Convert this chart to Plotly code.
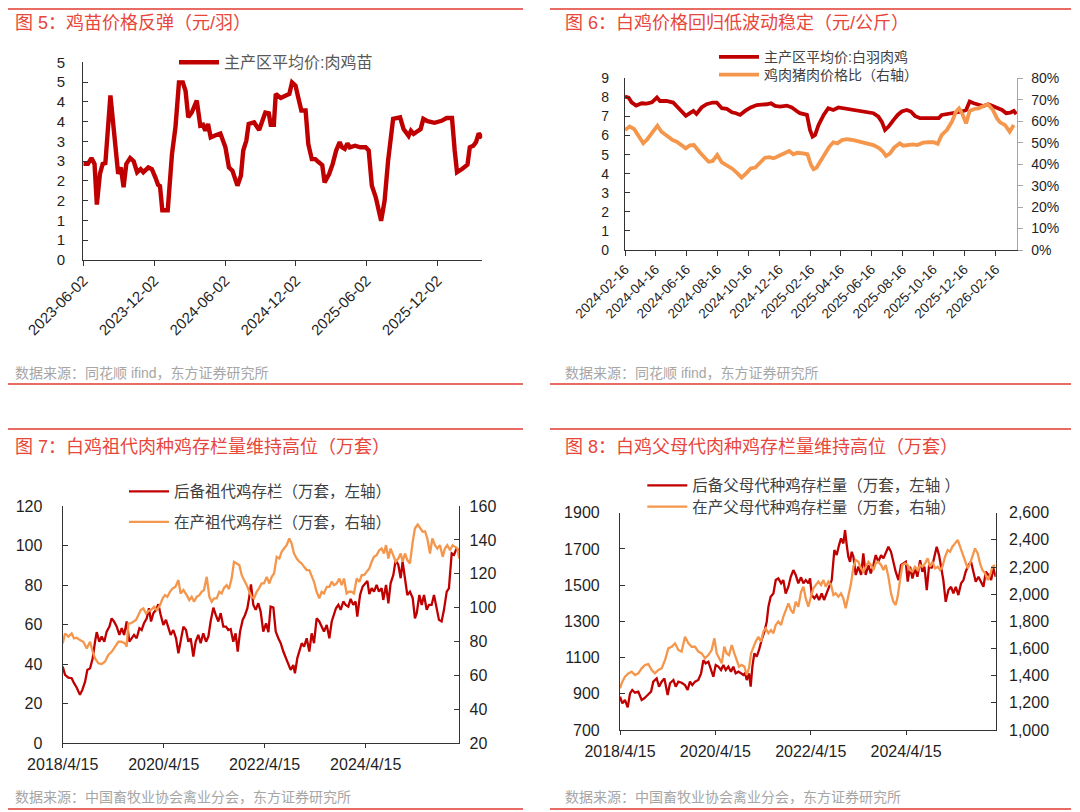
import pandas as pd
import plotly.graph_objects as go

W, H = 1080, 812
PAGE_PAD = 8  # the browser's default body margin around the plot div

# ---------------- 图5 鸡苗价格 (元/羽) ----------------
chick_start = "2023-06-02"
chick_days = [0, 12, 21, 29, 35, 43, 50, 57, 70, 79,
              90, 97, 104, 111, 121, 130, 139, 148, 155, 168,
              177, 186, 193, 198, 204, 218, 229, 238, 247, 257,
              264, 271, 280, 293, 302, 309, 315, 322, 329, 340,
              354, 367, 376, 385, 398, 407, 413, 421, 427, 441,
              454, 470, 479, 484, 492, 497, 510, 523, 532, 539,
              548, 555, 563, 574, 581, 590, 599, 608, 617, 623,
              635, 644, 653, 662, 668, 675, 682, 688, 702, 715,
              729, 737, 745, 755, 769, 778, 787, 800, 809, 818,
              827, 840, 846, 853, 862, 871, 878, 889, 907, 925,
              938, 952, 959, 965, 978, 992, 998, 1007, 1014, 1021,
              1030]
chick_price = [2.43, 2.43, 2.58, 2.43, 1.40, 2.18, 2.43, 2.45, 4.16, 3.19,
               2.18, 2.34, 1.84, 2.43, 2.58, 2.50, 2.22, 2.30, 2.22, 2.34,
               2.30, 2.09, 1.90, 1.87, 1.26, 1.26, 2.68, 3.36, 4.49, 4.49,
               4.28, 3.61, 3.73, 4.03, 3.40, 3.42, 3.27, 3.44, 3.10, 3.15,
               3.20, 2.85, 2.34, 2.26, 1.88, 2.13, 2.77, 3.02, 3.44, 3.48,
               3.29, 3.73, 3.71, 3.42, 3.42, 4.20, 4.10, 4.16, 4.20, 4.49,
               4.41, 4.11, 3.78, 3.78, 2.93, 2.55, 2.55, 2.47, 2.40, 1.96,
               2.18, 2.43, 2.77, 2.98, 2.85, 2.81, 2.95, 2.85, 2.89, 2.85,
               2.85, 2.77, 1.88, 1.59, 0.99, 1.50, 2.51, 3.57, 3.59, 3.61,
               3.31, 3.14, 3.27, 3.19, 3.25, 3.31, 3.57, 3.51, 3.47, 3.52,
               3.59, 3.59, 2.77, 2.22, 2.30, 2.41, 2.85, 2.89, 2.98, 3.20,
               3.09]
chick_xticks = ["2023-06-02", "2023-12-02", "2024-06-02", "2024-12-02", "2025-06-02", "2025-12-02"]
chick_yticks = [0, 0.5, 1, 1.5, 2, 2.5, 3, 3.5, 4, 4.5, 5]
chick_yticklabels = ["0", "1", "1", "2", "2", "3", "3", "4", "4", "5", "5"]

# ---------------- 图6 白鸡价格 (元/公斤) 与 鸡猪价格比 ----------------
broiler_start = "2024-02-16"
broiler_days = [0, 7, 13, 22, 33, 43, 53, 63, 69, 82,
                95, 102, 112, 120, 128, 135, 141, 151, 161, 173,
                181, 191, 201, 211, 219, 227, 237, 248, 260, 270,
                280, 288, 296, 306, 319, 329, 336, 345, 359, 365,
                370, 375, 382, 392, 401, 411, 421, 431, 441, 451,
                461, 470, 480, 490, 500, 507, 513, 520, 530, 538,
                546, 556, 564, 572, 582, 595, 609, 619, 625, 638,
                651, 665, 673, 680, 688, 697, 707, 717, 727, 737,
                744, 752, 760, 767, 772]
broiler_price = [8.04, 7.99, 7.74, 7.57, 7.69, 7.67, 7.74, 7.99, 7.81, 7.81,
                 7.73, 7.52, 7.26, 7.03, 7.17, 7.29, 7.13, 7.47, 7.64, 7.73,
                 7.73, 7.43, 7.40, 7.22, 7.17, 7.08, 7.29, 7.47, 7.60, 7.60,
                 7.64, 7.69, 7.55, 7.52, 7.57, 7.47, 7.33, 7.17, 7.08, 6.29,
                 5.94, 6.03, 6.56, 7.08, 7.43, 7.34, 7.47, 7.43, 7.40, 7.34,
                 7.31, 7.29, 7.26, 7.17, 6.99, 6.70, 6.29, 6.47, 6.82, 7.08,
                 7.26, 7.34, 7.26, 7.03, 6.91, 6.91, 6.87, 6.91, 7.08, 7.13,
                 7.20, 7.26, 7.34, 7.78, 7.69, 7.60, 7.55, 7.64, 7.52, 7.43,
                 7.34, 7.17, 7.20, 7.29, 7.12]
ratio_days = [0, 9, 18, 28, 36, 44, 55, 64, 72, 82,
              94, 102, 110, 120, 128, 136, 147, 156, 165, 173,
              182, 191, 201, 211, 222, 230, 239, 248, 257, 266,
              276, 285, 293, 303, 314, 324, 332, 340, 351, 360,
              367, 372, 378, 385, 395, 403, 411, 419, 428, 438,
              451, 464, 477, 490, 502, 509, 515, 523, 531, 542,
              549, 559, 568, 577, 588, 599, 609, 617, 625, 635,
              645, 653, 659, 665, 673, 680, 689, 697, 707, 716,
              726, 734, 740, 750, 759, 767]
ratio_pct = [55.9, 57.5, 56.4, 52.8, 49.7, 51.6, 54.8, 57.9, 55.1, 53.3,
             51.2, 50.5, 48.9, 47.4, 48.8, 48.9, 45.7, 43.5, 41.1, 41.5,
             44.3, 40.8, 39.3, 38.0, 35.7, 33.7, 35.7, 38.0, 38.4, 40.8,
             43.0, 43.2, 42.7, 43.8, 45.0, 46.1, 44.6, 45.3, 45.0, 44.6,
             39.6, 37.6, 38.4, 41.1, 45.5, 48.1, 50.2, 49.7, 51.2, 51.6,
             51.2, 50.5, 50.0, 48.9, 47.4, 45.8, 43.8, 45.0, 47.7, 49.7,
             48.6, 48.9, 49.2, 48.9, 50.0, 50.2, 50.2, 49.5, 53.6, 55.9,
             59.8, 64.4, 66.0, 63.7, 59.0, 64.8, 65.7, 66.0, 66.8, 67.9,
             65.2, 61.3, 59.5, 58.2, 55.1, 58.2]
broiler_xticks = ["2024-02-16", "2024-04-16", "2024-06-16", "2024-08-16", "2024-10-16",
                  "2024-12-16", "2025-02-16", "2025-04-16", "2025-06-16", "2025-08-16",
                  "2025-10-16", "2025-12-16", "2026-02-16"]

# ---------------- 图7 祖代肉种鸡存栏 (万套) ----------------
stock_start = "2018-04-15"
gp_reserve_days = [0, 17, 41, 65, 82, 101, 125, 142, 162, 178,
                   198, 217, 234, 246, 265, 282, 301, 318, 338, 354,
                   371, 391, 410, 427, 444, 463, 482, 499, 516, 535,
                   555, 571, 588, 608, 624, 639, 656, 675, 692, 709,
                   728, 747, 764, 781, 800, 820, 837, 853, 873, 892,
                   909, 926, 945, 962, 981, 998, 1017, 1037, 1054, 1070,
                   1090, 1107, 1126, 1143, 1162, 1181, 1198, 1215, 1234, 1251,
                   1266, 1283, 1302, 1319, 1336, 1350, 1362, 1379, 1396, 1415,
                   1432, 1451, 1471, 1488, 1504, 1524, 1541, 1560, 1577, 1596,
                   1615, 1632, 1649, 1668, 1680, 1697, 1712, 1729, 1746, 1765,
                   1784, 1801, 1818, 1837, 1856, 1873, 1890, 1910, 1929, 1946,
                   1963, 1977, 1994, 2011, 2030, 2047, 2066, 2083, 2102, 2119,
                   2131, 2151, 2170, 2187, 2204, 2218, 2235, 2252, 2271, 2288,
                   2307, 2319, 2339, 2356, 2372, 2392, 2409, 2428, 2445, 2459,
                   2476, 2493, 2512, 2532, 2548, 2561, 2580, 2597, 2614, 2633,
                   2650, 2669, 2686, 2705, 2722, 2741, 2758, 2778, 2794, 2814,
                   2831, 2850, 2869]
gp_reserve = [38.8, 34.6, 33.2, 32.9, 30.4, 28.2, 24.5, 27.0, 31.2, 37.1,
              37.9, 43.0, 51.4, 56.2, 51.4, 54.0, 51.4, 56.5, 59.0, 63.2,
              61.6, 59.0, 54.8, 58.2, 54.8, 61.6, 51.4, 53.1, 54.8, 53.1,
              58.2, 57.3, 60.7, 63.2, 68.3, 61.6, 65.8, 67.5, 70.3, 64.9,
              59.9, 62.4, 58.2, 54.8, 57.3, 53.1, 45.5, 52.3, 59.0, 57.3,
              51.4, 53.1, 43.8, 51.4, 54.8, 50.6, 55.6, 51.4, 54.0, 61.6,
              68.6, 64.9, 61.6, 65.8, 59.0, 59.0, 57.3, 57.8, 51.4, 55.6,
              46.4, 56.5, 62.4, 64.9, 68.3, 74.2, 80.4, 70.0, 67.5, 70.8,
              66.6, 56.5, 60.7, 56.2, 69.1, 68.6, 56.5, 53.1, 50.6, 46.4,
              43.0, 39.6, 37.1, 39.6, 35.4, 43.0, 46.4, 50.6, 48.9, 53.1,
              46.4, 55.6, 50.6, 63.2, 61.6, 59.0, 56.5, 59.9, 53.1, 61.6,
              64.9, 68.3, 70.0, 67.5, 71.7, 70.0, 69.1, 73.0, 70.0, 71.7,
              64.1, 75.0, 79.3, 80.9, 82.1, 75.4, 78.4, 76.7, 80.1, 76.7,
              78.4, 72.5, 80.1, 70.8, 80.9, 85.2, 92.7, 90.2, 83.5, 91.9,
              83.5, 75.0, 76.7, 73.4, 63.2, 65.8, 75.0, 70.0, 75.0, 67.5,
              70.0, 70.0, 75.0, 69.1, 62.4, 61.6, 67.5, 76.7, 78.4, 96.1,
              95.3, 98.7, 97.0]
gp_prod_days = [0, 17, 41, 65, 82, 101, 125, 149, 174, 198,
                217, 234, 258, 282, 306, 330, 354, 379, 403, 427,
                451, 463, 475, 492, 511, 530, 547, 564, 583, 603,
                620, 639, 661, 680, 704, 723, 740, 757, 776, 796,
                815, 837, 853, 873, 897, 916, 933, 950, 969, 989,
                1005, 1022, 1042, 1061, 1078, 1095, 1114, 1133, 1150, 1167,
                1186, 1203, 1222, 1239, 1259, 1278, 1295, 1314, 1331, 1350,
                1367, 1384, 1403, 1422, 1439, 1456, 1476, 1495, 1512, 1529,
                1548, 1567, 1584, 1601, 1620, 1639, 1656, 1673, 1693, 1712,
                1729, 1746, 1765, 1784, 1801, 1818, 1837, 1856, 1873, 1890,
                1910, 1929, 1946, 1963, 1982, 2001, 2018, 2035, 2054, 2071,
                2090, 2107, 2127, 2146, 2163, 2180, 2199, 2218, 2235, 2252,
                2271, 2290, 2307, 2324, 2339, 2356, 2372, 2392, 2409, 2428,
                2445, 2459, 2476, 2493, 2512, 2532, 2548, 2568, 2585, 2604,
                2621, 2638, 2657, 2674, 2693, 2710, 2729, 2749, 2765, 2782,
                2802, 2821, 2838, 2855, 2869]
gp_prod = [78.9, 84.8, 82.9, 84.8, 81.9, 82.3, 80.9, 79.9, 76.0, 79.9,
           74.0, 70.1, 67.2, 66.8, 68.1, 72.1, 74.0, 77.0, 79.9, 79.9,
           78.9, 77.0, 90.7, 90.7, 91.7, 92.7, 95.6, 98.6, 99.6, 96.6,
           98.0, 98.6, 100.6, 98.6, 101.5, 105.5, 107.4, 106.4, 109.4, 111.4,
           112.3, 116.3, 108.4, 110.4, 107.4, 104.5, 106.4, 103.5, 106.4, 107.4,
           109.4, 110.4, 118.2, 106.4, 103.5, 105.5, 105.5, 109.4, 108.4, 111.7,
           113.3, 111.0, 117.2, 127.1, 126.1, 125.1, 119.2, 116.3, 113.3, 109.4,
           106.4, 105.5, 109.4, 111.7, 114.3, 114.3, 118.2, 114.3, 118.2, 120.2,
           130.0, 129.0, 133.0, 134.9, 136.9, 140.8, 137.9, 132.0, 129.0, 127.1,
           126.1, 124.1, 122.2, 122.2, 118.2, 115.3, 109.4, 105.5, 109.4, 108.4,
           112.3, 112.3, 115.3, 113.3, 114.3, 117.2, 113.3, 117.2, 108.4, 109.4,
           109.4, 108.4, 117.2, 115.3, 119.2, 119.2, 121.2, 123.1, 127.1, 130.0,
           131.0, 133.9, 134.9, 132.0, 136.9, 129.0, 134.9, 130.0, 127.1, 129.0,
           132.0, 127.1, 132.0, 128.1, 126.1, 138.9, 146.7, 149.1, 146.7, 144.8,
           145.1, 140.8, 132.0, 140.8, 136.9, 134.9, 136.9, 130.0, 134.9, 136.9,
           133.9, 136.9, 135.9, 134.9, 129.0]

# ---------------- 图8 父母代肉种鸡存栏 (万套) ----------------
pp_reserve_days = [0, 18, 38, 59, 77, 94, 115, 140, 166, 186,
                   212, 238, 255, 281, 299, 319, 340, 365, 383, 409,
                   427, 447, 472, 498, 518, 536, 554, 575, 600, 621,
                   639, 656, 677, 697, 715, 733, 753, 774, 792, 810,
                   830, 850, 868, 886, 907, 927, 945, 958, 971, 988,
                   1001, 1014, 1029, 1047, 1065, 1085, 1106, 1124, 1137, 1154,
                   1175, 1193, 1213, 1234, 1251, 1269, 1290, 1308, 1328, 1346,
                   1366, 1387, 1405, 1423, 1443, 1456, 1469, 1489, 1507, 1525,
                   1545, 1563, 1583, 1601, 1622, 1642, 1660, 1678, 1693, 1711,
                   1724, 1737, 1749, 1762, 1775, 1788, 1806, 1826, 1847, 1864,
                   1882, 1903, 1921, 1941, 1959, 1979, 2000, 2018, 2036, 2056,
                   2076, 2094, 2112, 2133, 2153, 2171, 2189, 2204, 2222, 2240,
                   2260, 2278, 2299, 2316, 2332, 2350, 2368, 2388, 2408, 2426,
                   2444, 2460, 2477, 2495, 2516, 2536, 2554, 2572, 2592, 2613,
                   2631, 2648, 2669, 2689, 2707, 2725, 2746, 2766, 2784, 2802,
                   2822, 2843, 2860, 2878]
pp_reserve = [884, 847, 866, 825, 902, 921, 906, 912, 866, 875,
              893, 912, 967, 985, 939, 967, 985, 893, 958, 976,
              939, 967, 961, 948, 921, 967, 948, 967, 976, 1013,
              1086, 1068, 1077, 1031, 994, 1059, 1050, 1031, 1059, 1031,
              1050, 1022, 1050, 1013, 1022, 1013, 1004, 1013, 976, 1013,
              939, 1050, 1123, 1105, 1142, 1197, 1243, 1298, 1381, 1436,
              1454, 1528, 1537, 1510, 1528, 1454, 1491, 1546, 1583, 1556,
              1510, 1543, 1510, 1528, 1510, 1537, 1445, 1427, 1445, 1418,
              1454, 1418, 1454, 1491, 1528, 1694, 1666, 1721, 1758, 1730,
              1804, 1721, 1657, 1629, 1684, 1657, 1556, 1602, 1556, 1675,
              1556, 1611, 1565, 1611, 1666, 1629, 1666, 1648, 1675, 1712,
              1684, 1629, 1574, 1528, 1611, 1620, 1629, 1519, 1602, 1537,
              1593, 1546, 1638, 1574, 1602, 1473, 1611, 1593, 1648, 1712,
              1666, 1593, 1528, 1408, 1473, 1491, 1454, 1491, 1445, 1510,
              1528, 1574, 1611, 1629, 1574, 1519, 1546, 1519, 1491, 1574,
              1556, 1528, 1593, 1546]
pp_prod_days = [0, 18, 38, 64, 89, 115, 140, 166, 192, 217,
                243, 268, 294, 319, 345, 370, 396, 421, 447, 472,
                498, 524, 549, 575, 600, 626, 651, 677, 702, 723,
                741, 759, 779, 799, 817, 835, 856, 876, 894, 912,
                932, 953, 971, 988, 1004, 1022, 1039, 1060, 1080, 1098,
                1116, 1137, 1157, 1175, 1193, 1213, 1234, 1251, 1269, 1290,
                1310, 1328, 1346, 1366, 1387, 1405, 1423, 1443, 1463, 1481,
                1499, 1520, 1540, 1558, 1576, 1596, 1617, 1635, 1652, 1673,
                1693, 1711, 1729, 1749, 1770, 1788, 1806, 1826, 1847, 1864,
                1882, 1903, 1923, 1941, 1959, 1979, 2000, 2018, 2036, 2056,
                2076, 2094, 2112, 2127, 2145, 2163, 2184, 2204, 2222, 2240,
                2260, 2281, 2299, 2316, 2337, 2357, 2375, 2393, 2414, 2434,
                2452, 2470, 2490, 2511, 2528, 2546, 2567, 2587, 2605, 2623,
                2643, 2664, 2682, 2700, 2720, 2740, 2758, 2776, 2797, 2817,
                2835, 2853, 2873]
pp_prod = [1307, 1356, 1393, 1417, 1429, 1405, 1417, 1454, 1479, 1486,
           1442, 1417, 1442, 1454, 1515, 1601, 1613, 1638, 1589, 1577,
           1687, 1638, 1613, 1613, 1577, 1564, 1528, 1552, 1589, 1675,
           1564, 1528, 1491, 1613, 1564, 1552, 1626, 1564, 1515, 1466,
           1479, 1466, 1405, 1454, 1564, 1613, 1650, 1687, 1650, 1724,
           1748, 1712, 1736, 1712, 1773, 1798, 1773, 1834, 1883, 1933,
           1883, 1859, 1945, 1908, 2018, 2055, 1969, 1908, 1982, 2043,
           2067, 2092, 2067, 2104, 2055, 2092, 2067, 1994, 2006, 1982,
           2006, 1969, 1896, 1994, 2080, 2202, 2252, 2239, 2190, 2166,
           2202, 2239, 2215, 2178, 2227, 2239, 2215, 2178, 2215, 2129,
           2006, 1945, 1920, 1982, 2104, 2215, 2227, 2215, 2178, 2166,
           2202, 2178, 2215, 2202, 2227, 2264, 2202, 2239, 2190, 2202,
           2178, 2202, 2276, 2325, 2313, 2350, 2374, 2399, 2350, 2301,
           2239, 2190, 2227, 2288, 2337, 2301, 2227, 2178, 2153, 2104,
           2141, 2202, 2215]
stock_xticks = ["2018-04-15", "2020-04-15", "2022-04-15", "2024-04-15"]
stock_xticklabels = ["2018/4/15", "2020/4/15", "2022/4/15", "2024/4/15"]

# ---------------- text ----------------
titles = ["图 5：鸡苗价格反弹（元/羽）",
          "图 6：白鸡价格回归低波动稳定（元/公斤）",
          "图 7：白鸡祖代肉种鸡存栏量维持高位（万套）",
          "图 8：白鸡父母代肉种鸡存栏量维持高位（万套）"]
sources = ["数据来源：同花顺 ifind，东方证券研究所",
           "数据来源：同花顺 ifind，东方证券研究所",
           "数据来源：中国畜牧业协会禽业分会，东方证券研究所",
           "数据来源：中国畜牧业协会禽业分会，东方证券研究所"]

DARK_RED = "#C00000"
ORANGE = "#F4964B"
FRAME_RED = "#E23B30"
TITLE_RED = "#E8463B"
AXIS = "#333333"
TEXT = "#1F1F1F"
NUM_FONT = "Liberation Sans, Arial, sans-serif"
CJK_FONT = "Liberation Sans, Noto Sans CJK SC, sans-serif"


def to_dates(start, days):
    return pd.Timestamp(start) + pd.to_timedelta(days, unit="D")


# page pixel -> paper fraction (the plot div sits PAGE_PAD px into the page)
def px(x):
    return (x - PAGE_PAD) / W


def py(y):
    return 1 - (y - PAGE_PAD) / H


def ax(size, **kw):
    d = dict(showgrid=False, zeroline=False, showline=True, linecolor=AXIS, linewidth=1.2,
             tickcolor=AXIS, tickwidth=1.2, tickfont=dict(family=NUM_FONT, size=size, color=TEXT))
    d.update(kw)
    return d


def leg(text_x, y, size, color="#404040"):
    # the entry text starts itemwidth + 10 px right of the legend's left edge
    return dict(bgcolor="rgba(0,0,0,0)", borderwidth=0, xanchor="left", yanchor="middle",
                x=px(text_x - 50), y=py(y), itemwidth=40,
                font=dict(family=CJK_FONT, size=size, color=color))


fig = go.Figure()

# 图5
fig.add_trace(go.Scatter(x=to_dates(chick_start, chick_days), y=chick_price, mode="lines",
                         line=dict(color=DARK_RED, width=4.4), name="主产区平均价:肉鸡苗",
                         xaxis="x", yaxis="y", legend="legend"))
# 图6
fig.add_trace(go.Scatter(x=to_dates(broiler_start, broiler_days), y=broiler_price, mode="lines",
                         line=dict(color=DARK_RED, width=3.8), name="主产区平均价:白羽肉鸡",
                         xaxis="x2", yaxis="y2", legend="legend2"))
fig.add_trace(go.Scatter(x=to_dates(broiler_start, ratio_days), y=[v / 100 for v in ratio_pct], mode="lines",
                         line=dict(color=ORANGE, width=3.8), name="鸡肉猪肉价格比（右轴）",
                         xaxis="x2", yaxis="y3", legend="legend3"))
# 图7
fig.add_trace(go.Scatter(x=to_dates(stock_start, gp_reserve_days), y=gp_reserve, mode="lines",
                         line=dict(color=DARK_RED, width=2.3), name="后备祖代鸡存栏（万套，左轴）",
                         xaxis="x3", yaxis="y4", legend="legend4"))
fig.add_trace(go.Scatter(x=to_dates(stock_start, gp_prod_days), y=gp_prod, mode="lines",
                         line=dict(color=ORANGE, width=2.3), name="在产祖代鸡存栏（万套，右轴）",
                         xaxis="x3", yaxis="y5", legend="legend5"))
# 图8
fig.add_trace(go.Scatter(x=to_dates(stock_start, pp_reserve_days), y=pp_reserve, mode="lines",
                         line=dict(color=DARK_RED, width=2.3), name="后备父母代种鸡存栏量（万套，左轴 ）",
                         xaxis="x4", yaxis="y6", legend="legend6"))
fig.add_trace(go.Scatter(x=to_dates(stock_start, pp_prod_days), y=pp_prod, mode="lines",
                         line=dict(color=ORANGE, width=2.3), name="在产父母代种鸡存栏量（万套，右轴）",
                         xaxis="x4", yaxis="y7", legend="legend7"))

fig.update_layout(
    width=W, height=H,
    margin=dict(l=0, r=0, t=0, b=0, autoexpand=False),
    paper_bgcolor="white", plot_bgcolor="white",
    showlegend=True,
    # 图5
    xaxis=ax(15, domain=[px(83.3), px(482.2)], anchor="y", type="date",
             range=["2023-06-02", "2026-03-28"], tickvals=chick_xticks, ticktext=chick_xticks,
             tickangle=-45, ticks="outside", ticklen=5),
    yaxis=ax(15, domain=[py(260), py(62.3)], anchor="x", range=[0, 5],
             tickvals=chick_yticks, ticktext=chick_yticklabels, ticks="inside", ticklen=5,
             ticklabelstandoff=14),
    # 图6
    xaxis2=ax(13.5, domain=[px(625), px(1017.3)], anchor="y2", type="date",
              range=["2024-02-16", "2026-03-31"], tickvals=broiler_xticks, ticktext=broiler_xticks,
              tickangle=-45, ticks="outside", ticklen=5),
    yaxis2=ax(14, domain=[py(250), py(78.3)], anchor="x2", range=[0, 9], dtick=1,
              ticks="inside", ticklen=5, ticklabelstandoff=12),
    yaxis3=ax(14, overlaying="y2", anchor="x2", side="right", range=[0, 0.8], dtick=0.1,
              tickformat=".0%", ticks="outside", ticklen=5, linecolor="#A6A6A6",
              tickcolor="#A6A6A6", ticklabelstandoff=5),
    # 图7
    xaxis3=ax(16, domain=[px(62.7), px(459.3)], anchor="y4", type="date",
              range=["2018-04-15", "2026-02-21"], tickvals=stock_xticks, ticktext=stock_xticklabels,
              tickangle=0, ticks="outside", ticklen=4, ticklabelstandoff=2),
    yaxis4=ax(16, domain=[py(743.3), py(506)], anchor="x3", range=[0, 120], dtick=20,
              ticks="inside", ticklen=5, ticklabelstandoff=16),
    yaxis5=ax(16, overlaying="y4", anchor="x3", side="right", range=[20, 160], dtick=20,
              ticks="inside", ticklen=5, ticklabelstandoff=6),
    # 图8
    xaxis4=ax(16, domain=[px(620), px(995.7)], anchor="y6", type="date",
              range=["2018-04-15", "2026-03-02"], tickvals=stock_xticks, ticktext=stock_xticklabels,
              tickangle=0, ticks="outside", ticklen=4, ticklabelstandoff=3),
    yaxis6=ax(16, domain=[py(730), py(512.7)], anchor="x4", range=[700, 1900], tick0=700, dtick=200,
              tickformat="d", ticks="inside", ticklen=5, ticklabelstandoff=16),
    yaxis7=ax(16, overlaying="y6", anchor="x4", side="right", range=[1000, 2600], tick0=1000, dtick=200,
              tickformat=",d", ticks="inside", ticklen=5, ticklabelstandoff=9),
    legend=leg(224, 62.3, 16, "#595959"),
    legend2=leg(764, 57.3, 14),
    legend3=leg(764, 75, 14),
    legend4=leg(174, 491.7, 15.5),
    legend5=leg(174, 522.3, 15.5),
    legend6=leg(692.3, 485.7, 15.5),
    legend7=leg(692.3, 507, 15.5),
)

# panel frames: red rules, titles and source notes
panels = [  # (left, right, top rule, title y, source y, bottom rule, text x)
    (1, 523, 9, 23.5, 373, 384, 13.3),
    (550, 1071, 9, 23.5, 373, 384, 562.5),
    (1, 523, 429, 447, 797, 809, 13.3),
    (550, 1071, 429, 447, 797, 809, 562.5),
]
for i, (l, r, top, ty, sy, bot, tx) in enumerate(panels):
    for yy in (top, bot):
        fig.add_shape(type="line", xref="paper", yref="paper", x0=px(l), x1=px(r),
                      y0=py(yy), y1=py(yy), line=dict(color=FRAME_RED, width=1.6))
    fig.add_annotation(text=titles[i], xref="paper", yref="paper", x=px(tx), y=py(ty),
                       xanchor="left", yanchor="middle", showarrow=False,
                       font=dict(family=CJK_FONT, size=18, color=TITLE_RED))
    fig.add_annotation(text=sources[i], xref="paper", yref="paper", x=px(tx), y=py(sy),
                       xanchor="left", yanchor="middle", showarrow=False,
                       font=dict(family=CJK_FONT, size=14, color="#A6A6A6"))

fig.write_html("out.html")
